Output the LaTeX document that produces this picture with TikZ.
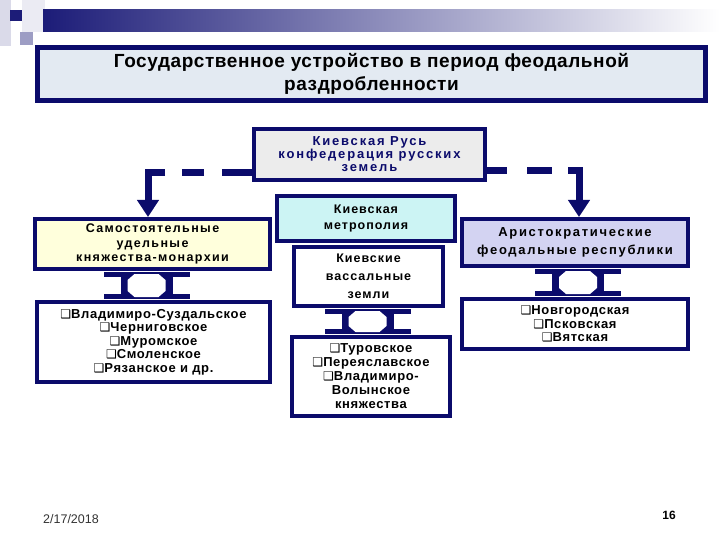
\documentclass[tikz,border=0pt]{standalone}
\usepackage{fontspec}
\setmainfont{Liberation Sans}
\newfontfamily\headfont{Liberation Sans}[LetterSpace=8]
\newfontfamily\listfont{Liberation Sans}[LetterSpace=5]
\newfontfamily\symfont{DejaVu Sans}
\usepackage{tikz}
\usetikzlibrary{calc, arrows.meta}

\definecolor{frameblue}{HTML}{0B0B6B}
\definecolor{barblue}{HTML}{1C1C78}
\definecolor{titlefill}{HTML}{E3EAF2}
\definecolor{rusfill}{HTML}{ECECEC}
\definecolor{samofill}{HTML}{FFFFDC}
\definecolor{metrofill}{HTML}{CCF4F4}
\definecolor{aristofill}{HTML}{D3D3F2}

\begin{document}
\begin{tikzpicture}[x=1pt, y=-1pt,
    box/.style={draw=frameblue, line width=4pt, align=center, inner sep=0pt},
    headtext/.style={font=\headfont\bfseries\addfontfeature{LetterSpace=11}\fontsize{12.5}{14.5}\selectfont},
    listtext/.style={font=\listfont\bfseries\fontsize{13}{13.5}\selectfont},
    dashlink/.style={draw=frameblue, line width=7pt, line join=miter,
        -{Triangle[length=17pt, width=21pt]}}]
    \useasboundingbox (0,0) rectangle (720,540);
    \def\sq{{\symfont\fontsize{12}{0}\selectfont ❑}}

    % --- 1. corner squares and shaded bar ---
    \fill[frameblue!15] (0,0) rectangle (11,46);
    \fill[frameblue!8] (22,0) rectangle (45,32);
    \fill[frameblue!40] (20,32) rectangle (33,45);
    \fill[barblue] (10,10) rectangle (22,21);
    \shade[left color=barblue, right color=white] (43,10) rectangle (720,32);

    % --- 2. title ---
    \node[box, line width=5pt, fill=titlefill, minimum width=668pt, minimum height=53pt,
        font=\headfont\bfseries\addfontfeature{LetterSpace=3}\fontsize{19}{23}\selectfont] (title) at (371.5,74)
        {Государственное устройство в период феодальной\\раздробленности};

    % --- 3. boxes ---
    \node[box, text=frameblue, fill=rusfill, minimum width=231pt, minimum height=51pt,
        font=\headfont\bfseries\addfontfeature{LetterSpace=14}\fontsize{13}{13}\selectfont] (rus) at (369.5,154.5)
        {Киевская Русь\\конфедерация русских\\земель};
    \node[box, headtext, fill=samofill, minimum width=235pt, minimum height=50pt] (samo) at (152.5,244)
        {Самостоятельные\\удельные\\княжества-монархии};
    \node[box, fill=metrofill, minimum width=178pt, minimum height=45pt,
        font=\headfont\bfseries\fontsize{12.5}{16}\selectfont] (metro) at (366,218.5)
        {Киевская\\метрополия};
    \node[box, fill=white, minimum width=149pt, minimum height=59pt,
        font=\headfont\bfseries\fontsize{12.5}{18}\selectfont] (vass) at (368.5,276.5)
        {Киевские\\вассальные\\земли};
    \node[box, fill=aristofill, minimum width=226pt, minimum height=47pt,
        font=\headfont\bfseries\addfontfeature{LetterSpace=13}\fontsize{13}{18}\selectfont] (aristo) at (575,242.5)
        {Аристократические\\феодальные республики};

    \node[box, listtext, fill=white, minimum width=233pt, minimum height=80pt] (listL) at (153.5,342)
        {\sq Владимиро-Суздальское\\\sq Черниговское\\\sq Муромское\\\sq Смоленское\\\sq Рязанское и др.};
    \node[box, fill=white, minimum width=158pt, minimum height=79pt,
        font=\listfont\bfseries\fontsize{13}{14}\selectfont] (listM) at (371,376.5)
        {\sq Туровское\\\sq Переяславское\\\sq Владимиро-\\Волынское\\княжества};
    \node[box, listtext, fill=white, minimum width=226pt, minimum height=50pt] (listR) at (575,324)
        {\sq Новгородская\\\sq Псковская\\\sq Вятская};

    % --- 4. dashed arrows from the confederation ---
    \draw[dashlink, dash pattern=on 30pt off 18pt on 22pt off 17pt on 200pt]
        ([yshift=9pt]rus.south west) -| ([xshift=-4.5pt]samo.north);
    \draw[dashlink, dash pattern=on 20pt off 20pt on 25pt off 16pt on 200pt]
        ([yshift=11pt]rus.south east) -| ([xshift=4pt]aristo.north);

    % --- 5. beams between boxes ---
    \def\beam#1#2#3{%
        \fill[frameblue] ($(#1.south)+(#3,0)+(-26,1)$) rectangle ($(#1.south |- #2.north)+(#3,0)+(26,-1)$);
        \fill[frameblue] ($(#1.south)+(#3,0)+(-43,1)$) rectangle ($(#1.south)+(#3,0)+(43,6)$);
        \fill[frameblue] ($(#1.south |- #2.north)+(#3,0)+(-43,-6)$) rectangle ($(#1.south |- #2.north)+(#3,0)+(43,-1)$);
        \fill[white] ($(#1.south)+(#3,0)+(-19,9)$) -- ($(#1.south)+(#3,0)+(-12,3)$)
            -- ($(#1.south)+(#3,0)+(12,3)$) -- ($(#1.south)+(#3,0)+(19,9)$)
            -- ($(#1.south |- #2.north)+(#3,0)+(19,-9)$) -- ($(#1.south |- #2.north)+(#3,0)+(12,-3)$)
            -- ($(#1.south |- #2.north)+(#3,0)+(-12,-3)$) -- ($(#1.south |- #2.north)+(#3,0)+(-19,-9)$) -- cycle;
    }
    \beam{samo}{listL}{-6}
    \beam{vass}{listM}{-1}
    \beam{aristo}{listR}{3}

    % --- 6. footer ---
    \node[font=\fontsize{12.5}{14}\selectfont, text=black!80] (date) at (71,519) {2/17/2018};
    \node[font=\bfseries\fontsize{12}{14}\selectfont] (page) at (669,515) {16};
\end{tikzpicture}
\end{document}
